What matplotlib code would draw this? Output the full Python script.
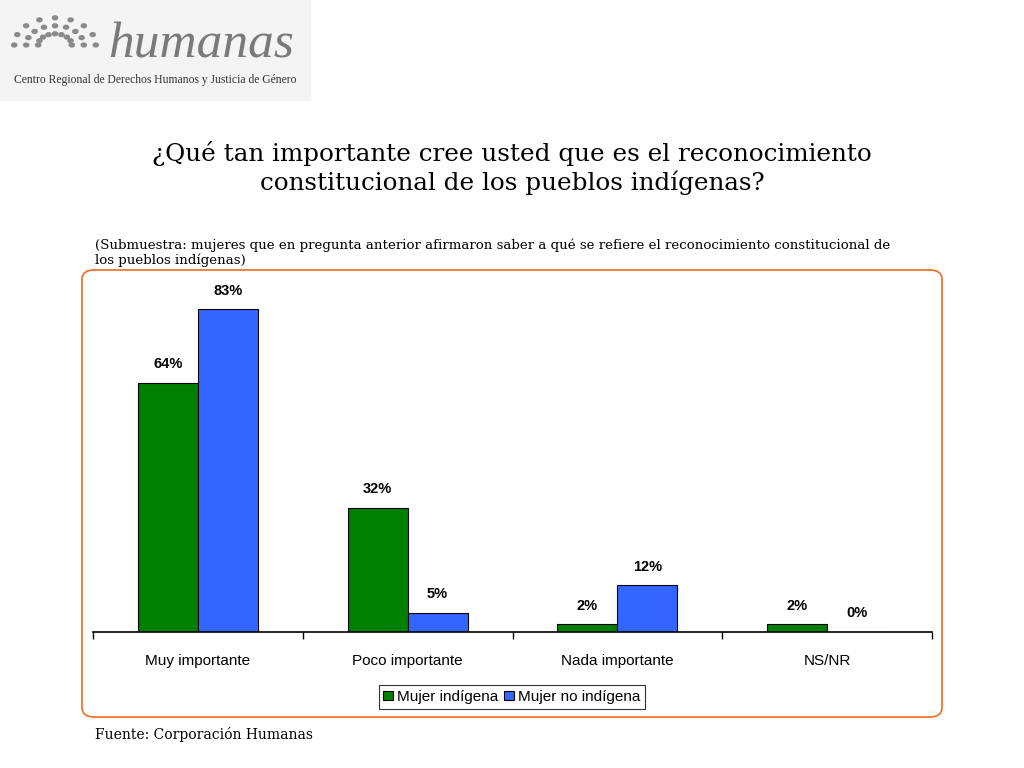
import matplotlib
matplotlib.use("Agg")
import matplotlib.pyplot as plt
from matplotlib.patches import FancyBboxPatch
import numpy as np

categories = ["Muy importante", "Poco importante", "Nada importante", "NS/NR"]
indigena = [64, 32, 2, 2]
no_indigena = [83, 5, 12, 0]
series_names = ["Mujer indígena", "Mujer no indígena"]

fig = plt.figure(figsize=(10.24, 7.68), dpi=100)

frame = FancyBboxPatch((82/1024, 1-717/768), 860/1024, 447/768,
                       boxstyle="round,pad=0,rounding_size=0.012",
                       transform=fig.transFigure, fill=False,
                       edgecolor="#F07830", linewidth=1.3)
fig.patches.append(frame)

fig.patches.append(plt.Rectangle((0, 1-100/768), 310/1024, 100/768,
                   transform=fig.transFigure, color="#F4F4F4", zorder=0))
fig.text(108/1024, 1-45/768, "humanas", fontsize=37, family="Liberation Serif",
         style="italic", color="#7A7A7A", va="center")
fig.text(14/1024, 1-80/768, "Centro Regional de Derechos Humanos y Justicia de Género",
         fontsize=8.4, family="Liberation Serif", color="#333333", va="center")
for r in range(3):
    for a in np.linspace(0, np.pi, 9):
        fig.patches.append(plt.Circle(((55 + (14+10*r)*np.cos(a)*1.2)/1024,
                                       1-(45 - (14+10*r)*np.sin(a)*0.8)/768), 0.0025,
                                      transform=fig.transFigure, color="#8A8A8A"))

fig.text(512/1024, 1-168/768,
         "¿Qué tan importante cree usted que es el reconocimiento\nconstitucional de los pueblos indígenas?",
         ha="center", va="center", fontsize=17.7, family="DejaVu Serif", linespacing=1.2)
fig.text(95/1024, 1-253/768,
         "(Submuestra: mujeres que en pregunta anterior afirmaron saber a qué se refiere el reconocimiento constitucional de\nlos pueblos indígenas)",
         ha="left", va="center", fontsize=9.6, family="DejaVu Serif", linespacing=1.1)
fig.text(95/1024, 1-735/768, "Fuente: Corporación Humanas", ha="left", va="center",
         fontsize=10, family="DejaVu Serif")

ax = fig.add_axes([93/1024, 1-632/768, 839/1024, 350/768])
x = np.arange(len(categories))
w = 0.286
b1 = ax.bar(x - w/2, indigena, w, color="#008000", edgecolor="black", linewidth=0.8,
            label=series_names[0])
b2 = ax.bar(x + w/2, no_indigena, w, color="#3366FF", edgecolor="black", linewidth=0.8,
            label=series_names[1])
for bars, vals in ((b1, indigena), (b2, no_indigena)):
    for rect, v in zip(bars, vals):
        ax.text(rect.get_x() + rect.get_width()/2, v + 3, f"{v}%", ha="center",
                va="bottom", fontsize=10.5, fontweight="bold", family="Liberation Sans")
ax.set_xlim(-0.5, 3.5)
ax.set_ylim(0, 90)
for s in ("top", "right", "left"):
    ax.spines[s].set_visible(False)
ax.spines["bottom"].set_linewidth(1.2)
ax.set_yticks([])
ax.set_xticks(np.arange(-0.5, 4, 1))
ax.set_xticklabels([])
ax.tick_params(axis="x", length=5, width=1, direction="out")
ax.set_xticks(x, minor=True)
ax.set_xticklabels(categories, minor=True, fontsize=11, family="Liberation Sans")
ax.tick_params(axis="x", which="minor", length=0, pad=16)

leg = fig.legend(handles=[b1, b2], loc="center", bbox_to_anchor=(512/1024, 1-697/768),
                 ncol=2, frameon=True, fancybox=False, edgecolor="black",
                 prop={"family": "Liberation Sans", "size": 11},
                 handlelength=0.6, handleheight=0.6, handletextpad=0.3,
                 columnspacing=0.4, borderpad=0.3)
leg.get_frame().set_linewidth(0.8)

fig.savefig("out.png", dpi=100)
